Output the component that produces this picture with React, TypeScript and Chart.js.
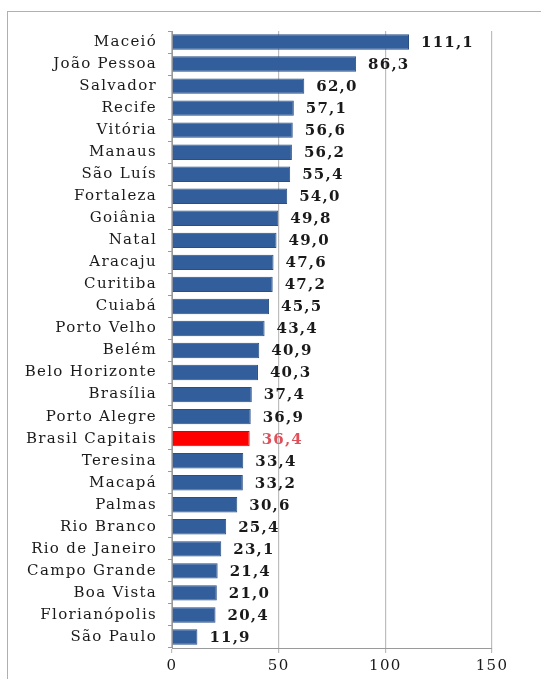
import React, { useEffect, useRef } from "react";
import { Chart, registerables } from "chart.js";

Chart.register(...registerables);

const categories = [
  "Maceió", "João Pessoa", "Salvador", "Recife", "Vitória", "Manaus", "São Luís",
  "Fortaleza", "Goiânia", "Natal", "Aracaju", "Curitiba", "Cuiabá", "Porto Velho",
  "Belém", "Belo Horizonte", "Brasília", "Porto Alegre", "Brasil Capitais", "Teresina",
  "Macapá", "Palmas", "Rio Branco", "Rio de Janeiro", "Campo Grande", "Boa Vista",
  "Florianópolis", "São Paulo",
];
const values = [
  111.1, 86.3, 62.0, 57.1, 56.6, 56.2, 55.4, 54.0, 49.8, 49.0, 47.6, 47.2, 45.5, 43.4,
  40.9, 40.3, 37.4, 36.9, 36.4, 33.4, 33.2, 30.6, 25.4, 23.1, 21.4, 21.0, 20.4, 11.9,
];
const highlight = "Brasil Capitais";
const xTicks = [0, 50, 100, 150];

const SERIF = "'DejaVu Serif', serif";

export default function App() {
  const ref = useRef<HTMLCanvasElement | null>(null);
  useEffect(() => {
    document.body.style.margin = "0";
    const canvas = ref.current!;
    const colors = categories.map((c) => (c === highlight ? "#ff0000" : "#335e9c"));
    const borders = categories.map((c) => (c === highlight ? "#e00000" : "#2a4f85"));
    const spacingPlugin = {
      id: "spacing",
      beforeUpdate(chart: any) {
        chart.ctx.letterSpacing = "1.3px";
      },
      beforeDraw(chart: any) {
        chart.ctx.letterSpacing = "1.3px";
      },
    };
    const labelPlugin = {
      id: "valueLabels",
      afterDatasetsDraw(chart: any) {
        const ctx = chart.ctx;
        const meta = chart.getDatasetMeta(0);
        ctx.save();
        ctx.letterSpacing = "1.2px";
        ctx.font = `bold 15px ${SERIF}`;
        ctx.textBaseline = "middle";
        ctx.textAlign = "left";
        meta.data.forEach((bar: any, i: number) => {
          ctx.fillStyle = categories[i] === highlight ? "#e0505a" : "#1a1a1a";
          ctx.fillText(values[i].toFixed(1).replace(".", ","), bar.x + 12, bar.y + 1);
        });
        ctx.restore();
      },
    };
    const chart = new Chart(canvas, {
      type: "bar",
      data: {
        labels: categories,
        datasets: [
          {
            data: values,
            backgroundColor: colors,
            borderColor: borders,
            borderWidth: 1,
            barPercentage: 0.7,
            categoryPercentage: 1,
          },
        ],
      },
      options: {
        indexAxis: "y",
        animation: false,
        responsive: false,
        maintainAspectRatio: false,
        layout: { padding: { top: 31, right: 49, left: 0, bottom: 0 } },
        plugins: { legend: { display: false }, tooltip: { enabled: false } },
        scales: {
          x: {
            min: 0,
            max: 150,
            afterBuildTicks(scale: any) {
              scale.ticks = xTicks.map((v) => ({ value: v }));
            },
            afterFit(scale: any) {
              scale.height = 31;
            },
            grid: {
              color: "#bdbdbd",
              tickLength: 5,
              lineWidth: 1.2,
            },
            border: { color: "#9a9a9a" },
            ticks: {
              padding: 4,
              color: "#1a1a1a",
              font: { family: SERIF, size: 15 },
            },
          },
          y: {
            afterFit(scale: any) {
              scale.width = 172;
            },
            grid: {
              drawOnChartArea: false,
              drawTicks: true,
              tickLength: 4,
              color: "#9a9a9a",
              offset: true,
            },
            border: { color: "#9a9a9a" },
            ticks: {
              padding: 11,
              color: "#1a1a1a",
              autoSkip: false,
              font: { family: SERIF, size: 15 },
            },
          },
        },
      },
      plugins: [spacingPlugin, labelPlugin],
    } as any);
    return () => chart.destroy();
  }, []);
  return (
    <div style={{ position: "relative", width: 541, height: 679, background: "#fff" }}>
      <div
        style={{
          position: "absolute",
          left: 7,
          top: 11,
          right: -2,
          bottom: -2,
          borderLeft: "1px solid #b0b0b0",
          borderTop: "1px solid #b0b0b0",
        }}
      />
      <canvas ref={ref} width={541} height={679} style={{ position: "absolute", left: 0, top: 0 }} />
    </div>
  );
}
